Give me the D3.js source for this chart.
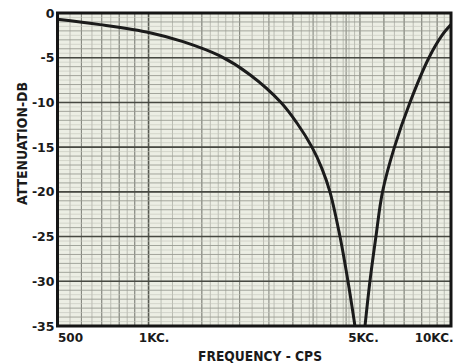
<!DOCTYPE html>
<html><head><meta charset="utf-8">
<script src="https://cdn.jsdelivr.net/npm/d3@7"></script>
<style>html,body{margin:0;padding:0;background:#fff}</style>
</head><body><svg id="chart" width="463" height="363"></svg>
<script>
// Attenuation of the notch network, below and above the null
const lowerFreq = [500, 691, 1010, 1300, 1722, 2164, 2741, 3095, 3470, 3744, 3979, 4295, 4564, 4813];
const lowerDb   = [-0.7, -1.3, -2.2, -3.2, -4.8, -6.9, -10.0, -12.3, -15, -17.4, -20, -25, -30, -35];
const upperFreq = [5196, 5395, 5647, 5937, 6501, 7316, 8453, 9336, 10000];
const upperDb   = [-35, -30, -25, -20, -15, -10, -5, -2.5, -1.3];

const freqTicks = [500, 1000, 5000, 10000];
const freqTickLabels = ["500", "1KC.", "5KC.", "10KC."];
const dbTicks = [0, -5, -10, -15, -20, -25, -30, -35];

const svg = d3.select("#chart");
const plotL = 57.5, plotR = 451, plotT = 13, plotB = 326;
const font = "'DejaVu Sans', sans-serif";

const x = d3.scaleLog().domain([500, 10000]).range([plotL, plotR]);
const y = d3.scaleLinear().domain([0, -35]).range([plotT, plotB]);

svg.append("rect").attr("width", 463).attr("height", 363).attr("fill", "#fff");
svg.append("rect").attr("x", plotL).attr("y", plotT)
  .attr("width", plotR - plotL).attr("height", plotB - plotT).attr("fill", "#eceee4");

// graph-paper rulings
const grid = svg.append("g");
const fineF = [].concat(d3.range(500, 1000, 50), d3.range(1000, 2000, 100),
  d3.range(2000, 5000, 200), d3.range(5000, 10001, 500));
const midF = [].concat(d3.range(600, 1000, 100), d3.range(1500, 5001, 500), d3.range(6000, 10000, 1000));
grid.selectAll(".vf").data(fineF).join("line")
  .attr("x1", d => x(d)).attr("x2", d => x(d)).attr("y1", plotT).attr("y2", plotB)
  .attr("stroke", "#aeb0a7").attr("stroke-width", 0.8);
grid.selectAll(".vm").data(midF).join("line")
  .attr("x1", d => x(d)).attr("x2", d => x(d)).attr("y1", plotT).attr("y2", plotB)
  .attr("stroke", "#888a82").attr("stroke-width", 1.1);
grid.append("line").attr("x1", x(1000)).attr("x2", x(1000)).attr("y1", plotT).attr("y2", plotB)
  .attr("stroke", "#55574f").attr("stroke-width", 1.6);

const fineDb = d3.range(0, -35.01, -0.5);
grid.selectAll(".hf").data(fineDb).join("line")
  .attr("x1", plotL).attr("x2", plotR).attr("y1", d => y(d)).attr("y2", d => y(d))
  .attr("stroke", d => Number.isInteger(d) ? "#9a9c93" : "#c2c4bb")
  .attr("stroke-width", d => Number.isInteger(d) ? 0.9 : 0.6);
grid.selectAll(".hm").data(dbTicks).join("line")
  .attr("x1", plotL).attr("x2", plotR).attr("y1", d => y(d)).attr("y2", d => y(d))
  .attr("stroke", "#474942").attr("stroke-width", 1.6);

// response curve
svg.append("clipPath").attr("id", "plotclip").append("rect")
  .attr("x", plotL).attr("y", plotT).attr("width", plotR - plotL).attr("height", plotB - plotT);
const line = d3.line().x(d => x(d[0])).y(d => y(d[1])).curve(d3.curveCatmullRom.alpha(0.5));
const curves = svg.append("g").attr("clip-path", "url(#plotclip)");
curves.append("path").datum(d3.zip(lowerFreq, lowerDb)).attr("d", line)
  .attr("fill", "none").attr("stroke", "#1b1b1b").attr("stroke-width", 3);
curves.append("path").datum(d3.zip(upperFreq, upperDb)).attr("d", line)
  .attr("fill", "none").attr("stroke", "#1b1b1b").attr("stroke-width", 3);

// frame
svg.append("rect").attr("x", plotL).attr("y", plotT)
  .attr("width", plotR - plotL).attr("height", plotB - plotT)
  .attr("fill", "none").attr("stroke", "#151515").attr("stroke-width", 3);

// axes
const yAxis = svg.append("g").attr("transform", `translate(${plotL},0)`)
  .call(d3.axisLeft(y).tickValues(dbTicks).tickSize(0).tickPadding(3).tickFormat(d => String(d)));
yAxis.select(".domain").remove();
yAxis.selectAll("text").attr("font-family", font).attr("font-weight", "bold")
  .attr("font-size", 12.5).attr("fill", "#1a1a1a");

const xAxis = svg.append("g").attr("transform", `translate(0,${plotB})`)
  .call(d3.axisBottom(x).tickValues(freqTicks).tickSize(0).tickPadding(7)
    .tickFormat((d, i) => freqTickLabels[i]));
xAxis.select(".domain").remove();
const anchors = ["start", "middle", "middle", "end"];
const shifts = [0, 5, 3, 2];
xAxis.selectAll("text").attr("font-family", font).attr("font-weight", "bold")
  .attr("font-size", 12).attr("fill", "#1a1a1a")
  .attr("text-anchor", (d, i) => anchors[i]).attr("dx", (d, i) => shifts[i]);

// titles
svg.append("text").attr("x", 260).attr("y", 361).attr("text-anchor", "middle")
  .attr("font-family", font).attr("font-weight", "bold").attr("font-size", 14.5)
  .attr("fill", "#1a1a1a").attr("textLength", 124).attr("lengthAdjust", "spacingAndGlyphs")
  .text("FREQUENCY - CPS");
svg.append("text").attr("transform", "translate(27,143.5) rotate(-90)")
  .attr("text-anchor", "middle")
  .attr("font-family", font).attr("font-weight", "bold").attr("font-size", 14.5)
  .attr("fill", "#1a1a1a").attr("textLength", 123).attr("lengthAdjust", "spacingAndGlyphs")
  .text("ATTENUATION-DB");
</script></body></html>
